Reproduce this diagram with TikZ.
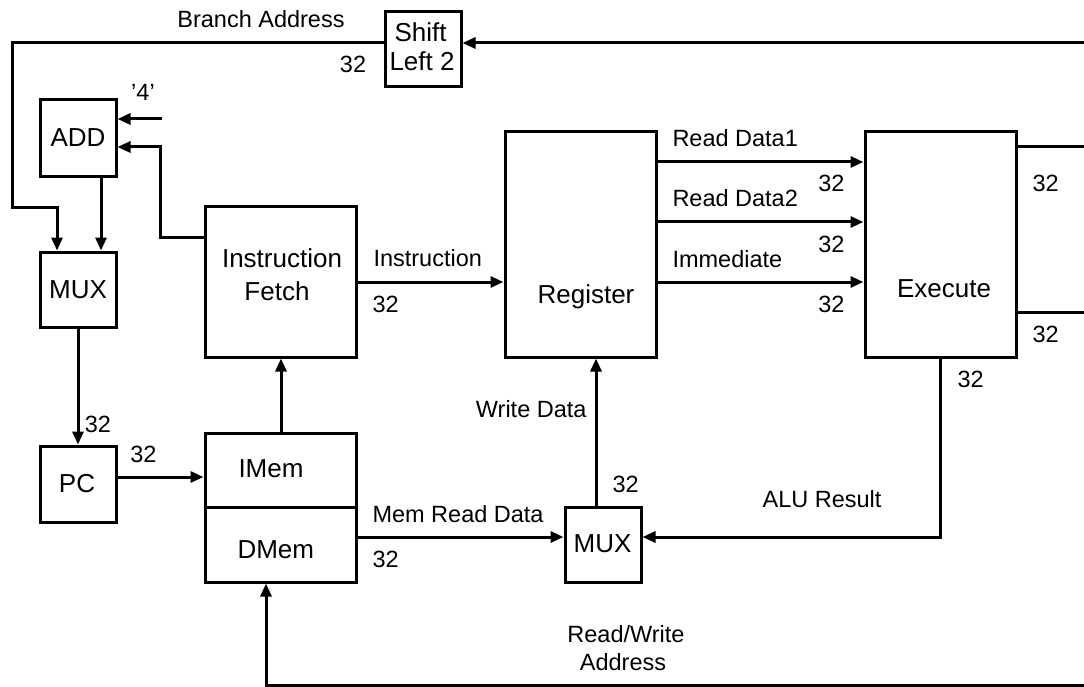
\documentclass[tikz,border=0pt]{standalone}
\usepackage{fontspec}
\setmainfont{Liberation Sans}
\usetikzlibrary{arrows.meta}
\newcommand\bigf{\fontsize{26}{30}\selectfont}
\newcommand\smf{\fontsize{23.5}{27}\selectfont}
\begin{document}
\begin{tikzpicture}[x=1pt,y=-1pt,line width=3pt,
  box/.style={draw,inner sep=0pt},
  bt/.style={font=\bigf,inner sep=0pt,anchor=base},
  btw/.style={font=\bigf,inner sep=0pt,anchor=base west},
  lb/.style={font=\smf,inner sep=0pt,anchor=base},
  lbw/.style={font=\smf,inner sep=0pt,anchor=base west},
  lbe/.style={font=\smf,inner sep=0pt,anchor=base east},
  arr/.style={-{Triangle[length=13pt,width=11pt]}}]
\useasboundingbox (0,0) rectangle (1084,687);

% boxes
\node[box,minimum width=76pt,minimum height=75pt] (shift) at (423,49.5) {};
\node[box,minimum width=76pt,minimum height=77pt] (add) at (78,138.5) {};
\node[box,minimum width=76pt,minimum height=75pt] (mux1) at (78,289.5) {};
\node[box,minimum width=76pt,minimum height=76pt] (pc) at (78,484) {};
\node[box,minimum width=151pt,minimum height=150pt] (ifetch) at (280.5,282) {};
\node[box,minimum width=151pt,minimum height=74pt] (imem) at (280.5,470) {};
\node[box,minimum width=151pt,minimum height=75pt] (dmem) at (280.5,544.5) {};
\node[box,minimum width=151pt,minimum height=225pt] (reg) at (580.5,244.5) {};
\node[box,minimum width=151pt,minimum height=225pt] (exec) at (940.5,244.5) {};
\node[box,minimum width=76pt,minimum height=75pt] (mux2) at (603,544.5) {};

% box texts
\node[btw] (tshiftA) at (393,42) {Shift};
\node[btw] (tshiftB) at (388,71) {Left 2};
\node[bt] (tadd) at (78,147) {ADD};
\node[bt] (tmux1) at (78,298) {MUX};
\node[bt] (tpc) at (77,492) {PC};
\node[bt] (tifA) at (282,267) {Instruction};
\node[bt] (tifB) at (277,300) {Fetch};
\node[btw] (timem) at (237,477) {IMem};
\node[btw] (tdmem) at (236,558) {DMem};
\node[bt] (treg) at (586,303) {Register};
\node[bt] (texec) at (944,297) {Execute};
\node[bt] (tmux2) at (602.5,552) {MUX};

% coordinates
\coordinate (tr) at (1084,43);
\coordinate (bl) at (12,43);
\coordinate (bm) at (57,208);
\coordinate (four) at (162,119);
\coordinate (fb) at (160,147);
\coordinate (e1) at (1084,147);
\coordinate (e2) at (1084,312);
\coordinate (alu) at (940,537);
\coordinate (rw) at (1084,685);
\coordinate (rwl) at (266,685);

% connectors
\draw[arr] (tr) -- (tr -| shift.east);
\draw[arr] (shift.west |- tr) -- (bl) -- (bl |- bm) -- (bm) -- (bm |- mux1.north);
\draw[arr] (four) -- (four -| add.east);
\draw[arr] (ifetch.west |- 0,237) -- (fb |- 0,237) -- (fb) -- (fb -| add.east);
\draw[arr] (add.south -| 101,0) -- (mux1.north -| 101,0);
\draw[arr] (mux1.south) -- (pc.north);
\draw[arr] (pc.east |- 0,477) -- (imem.west |- 0,477);
\draw[arr] (imem.north -| 281,0) -- (ifetch.south -| 281,0);
\draw[arr] (ifetch.east) -- (reg.west |- ifetch.east);
\draw[arr] (reg.east |- 0,162) -- (exec.west |- 0,162);
\draw[arr] (reg.east |- 0,222) -- (exec.west |- 0,222);
\draw[arr] (reg.east |- 0,282) -- (exec.west |- 0,282);
\draw (exec.east |- e1) -- (e1);
\draw (exec.east |- e2) -- (e2);
\draw[arr] (exec.south -| alu) -- (alu) -- (alu -| mux2.east);
\draw[arr] (dmem.east |- 0,537) -- (mux2.west |- 0,537);
\draw[arr] (mux2.north -| 596,0) -- (reg.south -| 596,0);
\draw[arr] (rw) -- (rwl) -- (rwl |- dmem.south);

% labels
\node[lb] (lbranch) at (261,28) {Branch Address};
\node[lb] (l32a) at (353,73) {32};
\node[lb] (lfour) at (143,101) {’4’};
\node[lb] (l32b) at (98,432) {32};
\node[lb] (l32c) at (143.5,462) {32};
\node[lbw] (linstr) at (372,266) {Instruction};
\node[lbw] (l32d) at (371,312) {32};
\node[lbw] (lrd1) at (671,147) {Read Data1};
\node[lbe] (l32e) at (846,192) {32};
\node[lbw] (lrd2) at (671,207) {Read Data2};
\node[lbe] (l32f) at (846,252) {32};
\node[lbw] (limm) at (671,267) {Immediate};
\node[lbe] (l32g) at (846,312) {32};
\node[lbw] (l32h) at (1031,192) {32};
\node[lbw] (l32i) at (1031,342) {32};
\node[lbw] (l32j) at (956,387) {32};
\node[lb] (lalu) at (822,507) {ALU Result};
\node[lbw] (l32k) at (611,492) {32};
\node[lbe] (lwd) at (588,417) {Write Data};
\node[lbw] (lmrd) at (371,522) {Mem Read Data};
\node[lbw] (l32l) at (371,567) {32};
\node[lb] (lrwA) at (626,642) {Read/Write};
\node[lb] (lrwB) at (623,670) {Address};
\end{tikzpicture}
\end{document}
